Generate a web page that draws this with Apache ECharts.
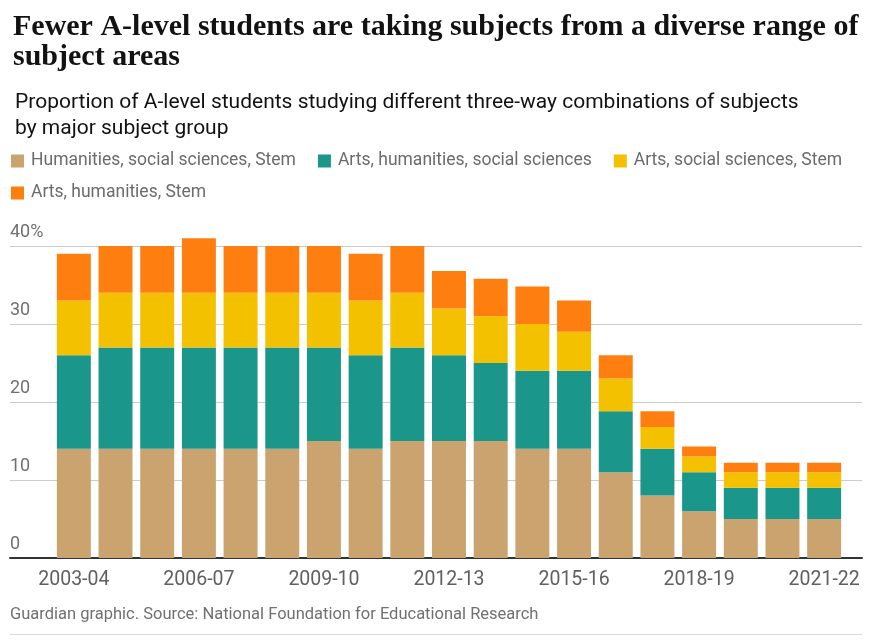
<!DOCTYPE html>
<html><head><meta charset="utf-8">
<script src="https://cdn.jsdelivr.net/npm/echarts@6/dist/echarts.min.js"></script>
<style>html,body{margin:0;padding:0;background:#fff}#c{width:880px;height:641px}</style>
</head><body><div id="c"></div>
<script>
const categories = ['2003-04','2004-05','2005-06','2006-07','2007-08','2008-09','2009-10','2010-11','2011-12','2012-13','2013-14','2014-15','2015-16','2016-17','2017-18','2018-19','2019-20','2020-21','2021-22'];
const humSocStem  = [14,14,14,14,14,14,15,14,15,15,15,14,14,11,8,6,5,5,5];
const artsHumSoc  = [12,13,13,13,13,13,12,12,12,11,10,10,10,7.8,6,5,4,4,4];
const artsSocStem = [7,7,7,7,7,7,7,7,7,6,6,6,5,4.2,2.8,2,2,2,2];
const artsHumStem = [6,6,6,7,6,6,6,6,6,4.8,4.8,4.8,4,3,2,1.3,1.2,1.2,1.2];
const seriesNames = ['Humanities, social sciences, Stem','Arts, humanities, social sciences','Arts, social sciences, Stem','Arts, humanities, Stem'];
const seriesColors = ['#caa36f','#1a968b','#f3c100','#fe7f10'];
const yMin = 0, yMax = 40, yStep = 10;

const SANS = 'Roboto';
const chart = echarts.init(document.getElementById('c'), null, {renderer:'canvas'});
const seriesData = [humSocStem, artsHumSoc, artsSocStem, artsHumStem];
const legendBase = {left:11, width:860, padding:0, itemWidth:13, itemHeight:13, itemGap:22, icon:'rect',
    textStyle:{fontFamily:SANS, fontSize:17.5, color:'#6b6b6b', padding:[0,0,0,2]}};
chart.setOption({
  animation:false,
  backgroundColor:'#fff',
  title:[
    {text:'Fewer A-level students are taking subjects from a diverse range of\nsubject areas', left:8, top:7,
     textStyle:{fontFamily:'Liberation Serif', fontWeight:'bold', fontSize:30, lineHeight:30, color:'#121212'}},
    {text:'Proportion of A-level students studying different three-way combinations of subjects\nby major subject group', left:10, top:84,
     textStyle:{fontFamily:SANS, fontWeight:'normal', fontSize:21, lineHeight:26.7, color:'#121212'}}
  ],
  legend:[
    Object.assign({}, legendBase, {top:152, data:seriesNames.slice(0,3)}),
    Object.assign({}, legendBase, {top:184, data:seriesNames.slice(3)})
  ],
  grid:[
    {left:10, right:18, top:246, bottom:83},
    {left:53, right:35, top:246, bottom:83}
  ],
  xAxis:[
    {type:'value', gridIndex:0, min:0, max:1, axisLine:{show:true, lineStyle:{color:'#333', width:2}}, axisTick:{show:false}, axisLabel:{show:false}, splitLine:{show:false}},
    {type:'category', gridIndex:1, data:categories, axisLine:{show:false}, axisTick:{show:false},
     axisLabel:{interval:2, margin:12, fontFamily:SANS, fontSize:19.5, color:'#606060'}}
  ],
  yAxis:[
    {type:'value', gridIndex:0, min:yMin, max:yMax, interval:yStep, axisLine:{show:false}, axisTick:{show:false},
     splitLine:{lineStyle:{color:'#cccccc', width:1}},
     axisLabel:{inside:true, margin:0, verticalAlign:'bottom', padding:[0,0,5,0], fontFamily:SANS, fontSize:18, color:'#707070',
       formatter:v => v === yMax ? v + '%' : String(v)}},
    {type:'value', gridIndex:1, min:yMin, max:yMax, interval:yStep, show:false}
  ],
  graphic:[
    {type:'text', left:10, top:606, style:{text:'Guardian graphic. Source: National Foundation for Educational Research', font:'16.5px Roboto', fill:'#707070'}},
    {type:'line', shape:{x1:10, y1:634.5, x2:862, y2:634.5}, style:{stroke:'#dcdcdc', lineWidth:1}}
  ],
  series: seriesNames.map((n,i)=>({
    name:n, type:'bar', stack:'total', xAxisIndex:1, yAxisIndex:1, barWidth:'81.5%', clip:false,
    itemStyle:{color:seriesColors[i]}, data:seriesData[i]
  }))
});
</script></body></html>
